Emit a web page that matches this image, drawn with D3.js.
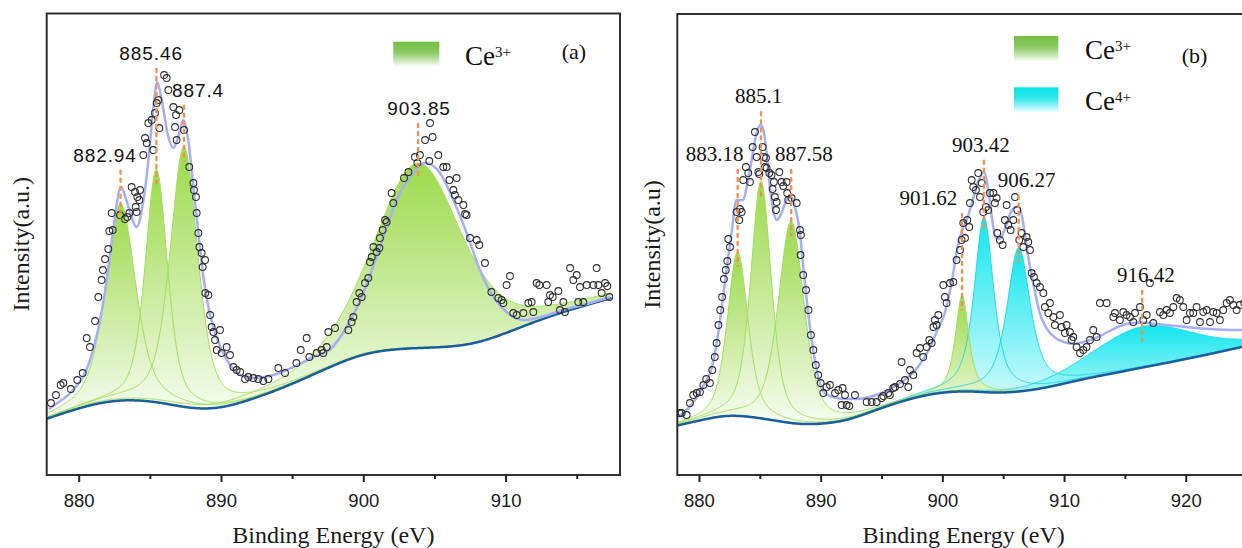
<!DOCTYPE html>
<html>
<head>
<meta charset="utf-8">
<script src="https://cdn.jsdelivr.net/npm/d3@7"></script>
<style>
  html, body { margin: 0; padding: 0; background: #fff; }
  svg { display: block; }
</style>
</head>
<body>
<svg id="chart" width="1242" height="548"></svg>
<script>
// ---------------- Panel (a) : Ce 3d, Ce3+ only ----------------
const aTicks = [880, 890, 900, 910];
const aMinorTicks = [885, 895, 905, 915];
const aPeakCenters = [882.94, 885.46, 887.4, 903.85];
const aPeakHeights = [197, 233, 260, 185];
const aPeakFwhm = [2.5, 1.85, 2.3, 7.3];
const aPeakMix = [0.5, 0.5, 0.5, 0.4];            // Lorentzian fraction of each pseudo-Voigt
const aPeakStates = ["Ce3+", "Ce3+", "Ce3+", "Ce3+"];
const aBackgroundStart = 877.8, aBackgroundStep = 2;
const aBackground = [56.5, 66, 73.5, 75.5, 72.5, 66.5, 66, 74, 84, 96, 109,
                     120.5, 125.5, 127, 127.8, 131, 140.5, 152, 162, 170.5, 178.5];
const aEnvelope = [
  [877.9, 66], [878.5, 72], [879.6, 85], [880.8, 115], [881.4, 148], [882.0, 198],
  [882.45, 248], [882.97, 288], [883.5, 268], [884.07, 248], [884.55, 275], [884.9, 315],
  [885.25, 368], [885.52, 393], [885.83, 375], [886.3, 338], [886.65, 327], [887.0, 338],
  [887.35, 355], [887.7, 335], [888.06, 288], [888.41, 242], [888.76, 198], [889.11, 168],
  [889.46, 148], [890.05, 125], [890.63, 110], [891.34, 100], [892.27, 97], [893.68, 100],
  [895.08, 108], [896.49, 118], [897.7, 126], [898.83, 148], [900.0, 182], [901.17, 228],
  [902.35, 275], [903.28, 298], [904.38, 312], [905.39, 302], [906.33, 275], [907.26, 242],
  [908.2, 205], [909.14, 178], [910.07, 163], [911.25, 155], [912.18, 157], [914.06, 165],
  [915.93, 172], [917.34, 178]
];
const aCounts = [
  [878.05, 72], [878.4, 80], [878.73, 90], [878.92, 92], [879.45, 86], [879.9, 95],
  [880.28, 102], [880.56, 137], [880.79, 128], [881.15, 154], [881.38, 178], [881.61, 195],
  [881.7, 205], [881.85, 216], [882.08, 226], [882.15, 244], [882.32, 262], [882.39, 245],
  [882.9, 260], [883.25, 256], [883.42, 258], [883.56, 262], [883.72, 288], [883.96, 283],
  [884.0, 268], [884.07, 263], [884.12, 278], [884.26, 275], [884.31, 285], [884.54, 320],
  [884.66, 337], [884.78, 332], [884.89, 352], [885.13, 355], [885.24, 325], [885.36, 362],
  [885.48, 372], [885.6, 375], [885.67, 347], [886.0, 400], [886.18, 397], [886.3, 385],
  [886.65, 368], [886.77, 348], [886.84, 360], [886.88, 335], [887.07, 365], [887.4, 345],
  [887.77, 308], [888.06, 292], [888.1, 285], [888.24, 278], [888.29, 262], [888.41, 242],
  [888.48, 228], [888.64, 222], [888.71, 208], [888.88, 215], [888.9, 182], [889.11, 180],
  [889.23, 160], [889.34, 148], [889.46, 143], [889.58, 135], [889.7, 125], [889.93, 145],
  [890.05, 122], [890.4, 128], [890.63, 120], [890.87, 108], [891.1, 105], [891.34, 103],
  [891.69, 96], [891.92, 98], [892.27, 97], [892.62, 96], [892.97, 94], [893.33, 96],
  [894.03, 107], [894.5, 102], [895.3, 112], [895.6, 125], [896.02, 137], [896.21, 118],
  [896.72, 122], [897.07, 125], [897.19, 122], [897.43, 128], [897.54, 143], [898.01, 147],
  [898.95, 145], [899.18, 153], [899.3, 158], [899.53, 173], [899.72, 182], [899.89, 178],
  [900.12, 192], [900.35, 197], [900.47, 213], [900.59, 218], [900.71, 228], [900.94, 223],
  [901.13, 227], [901.17, 237], [901.36, 245], [901.53, 255], [901.64, 253], [901.99, 282],
  [902.11, 272], [902.86, 297], [903.17, 303], [903.63, 318], [903.8, 312], [903.98, 320],
  [904.34, 335], [904.64, 314], [904.69, 352], [904.87, 338], [905.27, 320], [905.62, 308],
  [905.86, 308], [906.05, 295], [906.33, 285], [906.44, 280], [906.56, 297], [906.68, 275],
  [907.03, 270], [907.15, 261], [907.26, 260], [907.5, 237], [907.97, 235], [908.15, 230],
  [908.55, 212], [909.0, 183], [909.49, 177], [909.72, 175], [909.84, 172], [910.07, 190],
  [910.31, 199], [910.54, 162], [910.78, 160], [911.25, 162], [911.6, 172], [911.83, 173],
  [911.95, 163], [912.18, 192], [912.37, 190], [912.89, 190], [913.0, 173], [913.12, 180],
  [913.31, 178], [913.71, 184], [913.82, 165], [914.06, 173], [914.17, 163], [914.53, 207],
  [914.76, 195], [915.0, 200], [915.11, 173], [915.23, 188], [915.46, 173], [915.7, 190],
  [916.17, 190], [916.4, 207], [916.52, 190], [916.75, 182], [916.99, 192], [917.15, 189],
  [917.29, 178]
];

// ---------------- Panel (b) : Ce 3d, Ce3+ and Ce4+ ----------------
const bTicks = [880, 890, 900, 910, 920];
const bMinorTicks = [885, 895, 905, 915, 925];
const bPeakCenters = [883.18, 885.1, 887.58, 901.62, 903.42, 906.27, 916.42];
const bPeakHeights = [164, 237, 202, 96, 175, 144, 41];
const bPeakFwhm = [2.0, 2.0, 2.5, 1.3, 1.9, 2.3, 10];
const bPeakMix = [0.5, 0.5, 0.5, 0.7, 0.7, 0.7, 0.3];
const bPeakStates = ["Ce3+", "Ce3+", "Ce3+", "Ce3+", "Ce4+", "Ce4+", "Ce4+"];
const bBackgroundStart = 878.2, bBackgroundStep = 2;
const bBackground = [49.5, 55, 60, 58.5, 54.5, 50.5, 51, 54.5, 63.5, 72, 79, 83, 84,
                     82, 83, 86.5, 92, 97.5, 102, 107, 111.5, 116.5, 121.5, 127, 132];
const bEnvelope = [
  [878.3, 58], [879.5, 72], [880.5, 92], [881.0, 105], [881.5, 135], [882.0, 180],
  [882.33, 211], [882.68, 242], [883.09, 275], [883.37, 275], [883.64, 275], [883.92, 288],
  [884.19, 305], [884.46, 325], [884.74, 342], [885.07, 350], [885.34, 342], [885.56, 322],
  [885.83, 288], [886.11, 265], [886.38, 255], [886.79, 262], [887.2, 275], [887.56, 278],
  [887.89, 268], [888.3, 242], [888.57, 208], [888.9, 170], [889.2, 140], [889.6, 110],
  [890.2, 84], [891.0, 78], [892.0, 76], [893.0, 76], [894.0, 78], [895.0, 82],
  [896.0, 88], [897.0, 96], [898.0, 108], [899.0, 128], [899.6, 145], [900.2, 162],
  [900.8, 195], [901.2, 225], [901.62, 245], [902.0, 255], [902.5, 275], [903.0, 295],
  [903.42, 303], [903.8, 283], [904.1, 255], [904.4, 237], [904.7, 236], [905.1, 245],
  [905.6, 262], [906.0, 268], [906.3, 268], [906.6, 255], [907.0, 222], [907.5, 190],
  [908.0, 162], [908.6, 146], [909.3, 137], [910.0, 133], [910.8, 131], [911.6, 133],
  [912.6, 137], [913.6, 143], [914.6, 149], [915.6, 152], [916.4, 152.5], [917.5, 151],
  [918.5, 150], [920.0, 148], [922.0, 146], [924.0, 145], [925.3, 145]
];
const bCounts = [
  [878.4, 62], [878.58, 62], [878.99, 60], [879.26, 72], [879.53, 80], [879.81, 82],
  [880.08, 83], [880.36, 90], [880.6, 96], [880.9, 92], [881.1, 105], [881.3, 118],
  [881.45, 132], [881.6, 150], [881.75, 165], [881.9, 178], [882.05, 196], [882.2, 205],
  [882.33, 214], [882.41, 236], [882.55, 228], [883.09, 263], [883.31, 255], [883.37, 266],
  [883.51, 263], [883.64, 295], [883.86, 308], [884.05, 302], [884.19, 293], [884.41, 328],
  [884.6, 343], [884.74, 318], [884.88, 303], [884.96, 301], [885.23, 328], [885.34, 318],
  [885.42, 308], [885.51, 317], [885.56, 307], [885.78, 302], [885.97, 300], [886.05, 286],
  [886.16, 293], [886.24, 278], [886.33, 265], [886.38, 273], [886.6, 303], [886.79, 293],
  [886.93, 289], [887.2, 293], [887.25, 282], [887.34, 275], [887.61, 277], [888.03, 272],
  [888.3, 245], [888.35, 220], [888.38, 240], [888.57, 200], [888.8, 185], [889.0, 165],
  [889.2, 140], [889.4, 125], [889.6, 110], [889.8, 100], [890.0, 92], [890.22, 82],
  [890.49, 88], [890.76, 90], [891.18, 82], [891.45, 85], [891.72, 70], [891.8, 87],
  [892.0, 80], [892.13, 70], [892.35, 69], [892.82, 80], [893.78, 73], [894.19, 73],
  [894.6, 73], [895.01, 77], [895.15, 79], [895.56, 82], [895.69, 80], [895.97, 87],
  [896.11, 88], [896.52, 91], [896.65, 113], [896.93, 95], [897.2, 88], [897.34, 105],
  [897.61, 100], [897.89, 122], [898.16, 127], [898.43, 118], [898.71, 128], [898.93, 135],
  [899.12, 132], [899.26, 148], [899.39, 155], [899.53, 150], [899.67, 160], [900.08, 190],
  [900.21, 178], [900.35, 172], [900.63, 192], [900.9, 193], [901.17, 215], [901.45, 225],
  [901.58, 235], [901.72, 252], [901.86, 237], [902.05, 255], [902.21, 248], [902.27, 272],
  [902.41, 295], [902.54, 288], [902.76, 285], [902.95, 302], [903.09, 278], [903.23, 292],
  [903.36, 263], [903.58, 268], [903.77, 265], [903.91, 282], [904.19, 282], [904.32, 272],
  [904.46, 277], [904.51, 242], [904.73, 235], [904.95, 230], [905.14, 255], [905.28, 270],
  [905.42, 250], [905.61, 245], [905.83, 255], [905.97, 278], [906.16, 265], [906.32, 235],
  [906.51, 242], [906.65, 228], [906.92, 238], [907.06, 233], [907.2, 225], [907.34, 202],
  [907.53, 198], [907.75, 192], [908.02, 188], [908.3, 182], [908.43, 168], [908.71, 162],
  [908.84, 172], [909.12, 158], [909.25, 150], [909.66, 160], [909.8, 148], [910.07, 142],
  [910.21, 150], [910.48, 143], [910.62, 135], [910.76, 138], [911.03, 128], [911.31, 122],
  [911.58, 125], [911.85, 128], [912.13, 135], [912.4, 145], [912.68, 138], [912.95, 172],
  [913.5, 172], [914.05, 158], [914.18, 162], [914.59, 155], [914.87, 163], [915.14, 160],
  [915.42, 158], [915.69, 153], [915.83, 162], [916.24, 168], [916.51, 155], [916.79, 160],
  [917.06, 192], [917.33, 152], [917.88, 163], [918.15, 160], [918.43, 165], [918.7, 162],
  [918.98, 168], [919.25, 177], [919.52, 175], [919.8, 168], [920.07, 155], [920.35, 162],
  [920.62, 162], [920.89, 168], [921.17, 153], [921.44, 163], [921.72, 165], [921.99, 153],
  [922.26, 163], [922.54, 162], [922.81, 155], [923.08, 165], [923.36, 172], [923.63, 175],
  [923.91, 170], [924.18, 165], [924.45, 170], [924.8, 172], [925.1, 160]
];

// ---------------- Layout (pixels) ----------------
const panels = [
  {
    id: "a", tag: "(a)", yTitle: "Intensity(a.u.)",
    left: 46.7, right: 620, top: 13.5, bottom: 475, domain: [877.75, 918.04],
    span: [877.85, 917.4], bgSpan: [877.75, 917.45],
    ticks: aTicks, minor: aMinorTicks,
    centers: aPeakCenters, heights: aPeakHeights, fwhm: aPeakFwhm, mix: aPeakMix, states: aPeakStates,
    bgStart: aBackgroundStart, bgStep: aBackgroundStep, bg: aBackground,
    envelope: aEnvelope, counts: aCounts,
    // label offset from its peak (dx) and baseline (y)
    labelPlace: [[-15.5, 161.7], [-5.3, 60], [14, 96.7], [1, 115]],
    labelFont: { family: "'Liberation Sans', Arial, sans-serif", size: 19, spacing: 0.9 },
    legend: [{ state: "Ce3+", x: 393.3, y: 41.7, w: 46, h: 25, tx: 465, ty: 65 }],
    tagPos: [561.7, 59.3], yTitleX: 29
  },
  {
    id: "b", tag: "(b)", yTitle: "Intensity(a.u)",
    left: 677.3, right: 1250, top: 14, bottom: 475, domain: [878.22, 925.28],
    span: [878.25, 925.3], bgSpan: [878.22, 925.3],
    ticks: bTicks, minor: bMinorTicks,
    centers: bPeakCenters, heights: bPeakHeights, fwhm: bPeakFwhm, mix: bPeakMix, states: bPeakStates,
    bgStart: bBackgroundStart, bgStep: bBackgroundStep, bg: bBackground,
    envelope: bEnvelope, counts: bCounts,
    labelPlace: [[-23, 161], [-2.3, 103.3], [12.6, 161], [-33.7, 205], [-3.2, 151.7], [8, 186.7], [3.6, 281.7]],
    labelFont: { family: "'Liberation Serif', 'Times New Roman', serif", size: 21, spacing: 0 },
    legend: [
      { state: "Ce3+", x: 1014, y: 36, w: 44.3, h: 25.7, tx: 1085, ty: 59.3 },
      { state: "Ce4+", x: 1014, y: 87.3, w: 44.3, h: 25.7, tx: 1085, ty: 110 }
    ],
    tagPos: [1181.7, 63.3], yTitleX: 660
  }
];

const stateStyle = {
  "Ce3+": { top: "#9cda4b", bottom: "#f6fcf0", line: "#a2dc5e", legendTop: "#74bf43", sup: "3+" },
  "Ce4+": { top: "#12e6ee", bottom: "#f2fefe", line: "#24d6e6", legendTop: "#08e2e8", sup: "4+" }
};

const serif = "'Liberation Serif', 'Times New Roman', serif";
const sans = "'Liberation Sans', Arial, sans-serif";

const svg = d3.select("#chart");
const defs = svg.append("defs");

// Vertical fill gradients, stretched over each shape's own box
Object.entries(stateStyle).forEach(([state, s], i) => {
  const g = defs.append("linearGradient").attr("id", "fill" + i)
    .attr("x1", 0).attr("y1", 0).attr("x2", 0).attr("y2", 1);
  g.append("stop").attr("offset", "0%").attr("stop-color", s.top);
  g.append("stop").attr("offset", "100%").attr("stop-color", s.bottom);
  s.fillId = "fill" + i;
  const lg = defs.append("linearGradient").attr("id", "legend" + i)
    .attr("x1", 0).attr("y1", 0).attr("x2", 0).attr("y2", 1);
  lg.append("stop").attr("offset", "0%").attr("stop-color", s.legendTop);
  lg.append("stop").attr("offset", "40%").attr("stop-color", s.legendTop).attr("stop-opacity", 0.85);
  lg.append("stop").attr("offset", "100%").attr("stop-color", "#ffffff");
  s.legendId = "legend" + i;
});

// pseudo-Voigt line shape
function pseudoVoigt(e, c, h, w, eta) {
  const u = (e - c) / w;
  return h * (eta / (1 + 4 * u * u) + (1 - eta) * Math.exp(-4 * Math.LN2 * u * u));
}

panels.forEach(p => {
  const x = d3.scaleLinear().domain(p.domain).range([p.left, p.right]);
  const y = d3.scaleLinear().domain([0, 462]).range([p.bottom, 13]);
  const bgSpline = d3.interpolateBasis(p.bg);
  const bgLast = p.bgStart + p.bgStep * (p.bg.length - 1);
  const bgAt = e => bgSpline(Math.max(0, Math.min(1, (e - p.bgStart) / (bgLast - p.bgStart))));

  const g = svg.append("g").attr("class", "panel-" + p.id);
  const clipId = "clip-" + p.id;
  defs.append("clipPath").attr("id", clipId).append("rect")
    .attr("x", p.left).attr("y", p.top).attr("width", p.right - p.left).attr("height", p.bottom - p.top);
  const plot = g.append("g").attr("clip-path", `url(#${clipId})`);

  // fitted components: area between background and background + peak
  const grid = d3.range(p.span[0], p.span[1] + 1e-9, 0.04);
  const peaks = p.centers.map((c, i) => ({
    c, h: p.heights[i], w: p.fwhm[i], eta: p.mix[i], state: p.states[i],
    pts: grid.map(e => ({ e, b: bgAt(e), v: pseudoVoigt(e, c, p.heights[i], p.fwhm[i], p.mix[i]) }))
  }));
  const area = d3.area().x(d => x(d.e)).y0(d => y(d.b)).y1(d => y(d.b + d.v));
  const edge = d3.line().x(d => x(d.e)).y(d => y(d.b + d.v));
  const drawOrder = peaks.filter(k => k.state === "Ce4+").concat(peaks.filter(k => k.state === "Ce3+"));
  plot.append("g").selectAll("path").data(drawOrder).join("path")
    .attr("d", k => area(k.pts))
    .attr("fill", k => `url(#${stateStyle[k.state].fillId})`);
  plot.append("g").selectAll("path").data(drawOrder).join("path")
    .attr("d", k => edge(k.pts))
    .attr("fill", "none").attr("stroke", k => stateStyle[k.state].line).attr("stroke-width", 1);

  // background
  const bgGrid = d3.range(p.bgSpan[0], p.bgSpan[1] + 1e-9, 0.05);
  plot.append("path")
    .attr("d", d3.line().x(e => x(e)).y(e => y(bgAt(e)))(bgGrid))
    .attr("fill", "none").attr("stroke", "#1b5e9e").attr("stroke-width", 2.5);

  // fitted envelope
  plot.append("path")
    .attr("d", d3.line().curve(d3.curveMonotoneX).x(d => x(d[0])).y(d => y(d[1]))(p.envelope))
    .attr("fill", "none").attr("stroke", "#a6aef4").attr("stroke-width", 2.5);

  // measured counts
  plot.append("g").selectAll("circle").data(p.counts).join("circle")
    .attr("cx", d => x(d[0])).attr("cy", d => y(d[1])).attr("r", 3.4)
    .attr("fill", "none").attr("stroke", "#2e2e2e").attr("stroke-width", 1.05);

  // peak markers and labels
  peaks.forEach((k, i) => {
    const [dx, ty] = p.labelPlace[i];
    const px = x(k.c);
    const topY = y(bgAt(k.c) + k.h);
    g.append("line")
      .attr("x1", px).attr("x2", px).attr("y1", ty + 8).attr("y2", topY + 15)
      .attr("stroke", "#f29050").attr("stroke-width", 2.3).attr("stroke-dasharray", "5,3");
    g.append("text")
      .attr("x", px + dx).attr("y", ty).attr("text-anchor", "middle")
      .attr("font-family", p.labelFont.family).attr("font-size", p.labelFont.size)
      .attr("letter-spacing", p.labelFont.spacing).attr("fill", "#111")
      .text(String(k.c));
  });

  // frame
  g.append("rect")
    .attr("x", p.left).attr("y", p.top).attr("width", p.right - p.left).attr("height", p.bottom - p.top)
    .attr("fill", "none").attr("stroke", "#262626").attr("stroke-width", 1.9);

  // bottom axis: major and minor ticks
  const major = g.append("g").attr("transform", `translate(0,${p.bottom})`)
    .call(d3.axisBottom(x).tickValues(p.ticks).tickSize(7).tickSizeOuter(0).tickPadding(11.5).tickFormat(d3.format("d")));
  const minor = g.append("g").attr("transform", `translate(0,${p.bottom})`)
    .call(d3.axisBottom(x).tickValues(p.minor.filter(v => v <= p.domain[1])).tickSize(4).tickSizeOuter(0).tickFormat(""));
  [major, minor].forEach(ax => {
    ax.select(".domain").remove();
    ax.selectAll(".tick line").attr("stroke", "#222").attr("stroke-width", 2);
  });
  major.selectAll(".tick text")
    .attr("font-family", sans).attr("font-size", 18.5).attr("fill", "#1a1a1a");

  // axis titles
  g.append("text")
    .attr("x", (p.left + p.right) / 2).attr("y", 542.5).attr("text-anchor", "middle")
    .attr("font-family", serif).attr("font-size", 24).attr("fill", "#1a1a1a")
    .text("Binding Energy (eV)");
  g.append("text")
    .attr("transform", `translate(${p.yTitleX},${(p.top + p.bottom) / 2}) rotate(-90)`)
    .attr("text-anchor", "middle")
    .attr("font-family", serif).attr("font-size", 24).attr("fill", "#1a1a1a")
    .text(p.yTitle);

  // legend
  p.legend.forEach(l => {
    const s = stateStyle[l.state];
    g.append("rect").attr("x", l.x).attr("y", l.y).attr("width", l.w).attr("height", l.h)
      .attr("fill", `url(#${s.legendId})`);
    const t = g.append("text").attr("x", l.tx).attr("y", l.ty)
      .attr("font-family", serif).attr("font-size", 27).attr("fill", "#111");
    t.append("tspan").text("Ce");
    t.append("tspan").attr("dy", -8.5).attr("font-size", 15).text(s.sup);
  });

  // panel tag
  g.append("text").attr("x", p.tagPos[0]).attr("y", p.tagPos[1])
    .attr("font-family", serif).attr("font-size", 22).attr("fill", "#111")
    .text(p.tag);
});
</script>
</body>
</html>
